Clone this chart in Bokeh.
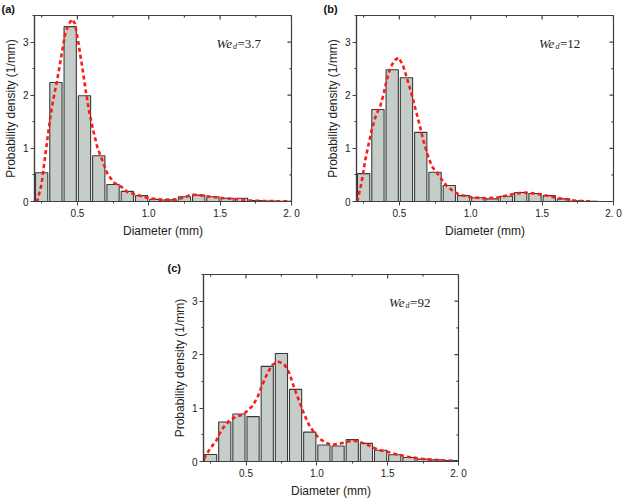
import math
from bokeh.plotting import figure
from bokeh.models import (FixedTicker, CustomJSTickFormatter, Label,
                          Range1d, Spacer, ColumnDataSource)
from bokeh.layouts import column, row
from bokeh.embed import file_html
from bokeh.resources import INLINE

# ---------------- data ----------------
bin_centers = [0.25, 0.35, 0.45, 0.55, 0.65, 0.75, 0.85, 0.95, 1.05,
               1.15, 1.25, 1.35, 1.45, 1.55, 1.65, 1.75, 1.85, 1.95]

bars_a = [0.54, 2.24, 3.29, 1.99, 0.86, 0.32, 0.19, 0.11, 0.04,
          0.03, 0.09, 0.12, 0.09, 0.06, 0.06, 0.02, 0.01, 0.005]
bars_b = [0.525, 1.73, 2.48, 2.33, 1.30, 0.55, 0.30, 0.11, 0.07,
          0.05, 0.10, 0.17, 0.15, 0.11, 0.05, 0.015, 0.005, 0.0]
bars_c = [0.13, 0.74, 0.89, 0.84, 1.78, 2.02, 1.35, 0.55, 0.31,
          0.29, 0.41, 0.34, 0.21, 0.125, 0.075, 0.045, 0.03, 0.02]

curve_a_x = [0.21, 0.221, 0.249, 0.273, 0.291, 0.31, 0.333, 0.357, 0.385, 0.413,
             0.436, 0.462, 0.483, 0.506, 0.532, 0.56, 0.583, 0.613, 0.641, 0.677,
             0.712, 0.759, 0.817, 0.85, 0.95, 1.0, 1.1, 1.2, 1.25, 1.3, 1.35,
             1.4, 1.5, 1.6, 1.7, 1.8, 2.0]
curve_a_y = [0.0, 0.02, 0.32, 0.82, 1.19, 1.57, 1.94, 2.26, 2.69, 3.13,
             3.32, 3.43, 3.35, 3.01, 2.57, 2.07, 1.69, 1.32, 1.01, 0.76,
             0.51, 0.35, 0.26, 0.18, 0.10, 0.06, 0.03, 0.04, 0.08, 0.13, 0.12,
             0.10, 0.07, 0.045, 0.02, 0.01, 0.0]

curve_b_x = [0.205, 0.214, 0.237, 0.26, 0.284, 0.307, 0.337, 0.366, 0.389, 0.412,
             0.44, 0.469, 0.495, 0.525, 0.553, 0.581, 0.611, 0.642, 0.67, 0.698,
             0.728, 0.763, 0.798, 0.833, 0.88, 0.927, 0.973, 1.0, 1.1, 1.2,
             1.3, 1.37, 1.45, 1.55, 1.65, 1.75, 1.86]
curve_b_y = [0.0, 0.10, 0.38, 0.76, 1.07, 1.35, 1.63, 1.79, 2.01, 2.29,
             2.54, 2.66, 2.71, 2.57, 2.32, 2.07, 1.76, 1.44, 1.13, 0.88,
             0.66, 0.54, 0.41, 0.29, 0.19, 0.12, 0.10, 0.08, 0.06, 0.08,
             0.14, 0.17, 0.15, 0.10, 0.045, 0.01, 0.0]

curve_c_x = [0.205, 0.217, 0.252, 0.288, 0.311, 0.341, 0.381, 0.429, 0.475, 0.511,
             0.546, 0.581, 0.616, 0.652, 0.687, 0.727, 0.77, 0.805, 0.84, 0.875,
             0.911, 0.946, 0.981, 1.017, 1.064, 1.11, 1.19, 1.25, 1.29, 1.36,
             1.43, 1.5, 1.57, 1.64, 1.74, 1.83, 1.97]
curve_c_y = [0.05, 0.12, 0.26, 0.38, 0.51, 0.64, 0.76, 0.84, 0.87, 0.95,
             1.04, 1.20, 1.44, 1.66, 1.81, 1.87, 1.82, 1.66, 1.38, 1.13,
             0.88, 0.68, 0.54, 0.43, 0.35, 0.31, 0.35, 0.39, 0.38, 0.31,
             0.22, 0.18, 0.13, 0.09, 0.05, 0.03, 0.01]

panel_tags = ["(a)", "(b)", "(c)"]
weber_values = ["3.7", "12", "92"]

x_major = [0.5, 1.0, 1.5, 2.0]
x_minor = [0.25, 0.75, 1.25, 1.75]
y_major = [0, 1, 2, 3]
y_minor = [0.5, 1.5, 2.5, 3.5]

X_START, X_END = 0.2, 2.0
Y_START, Y_END = 0.0, 3.5

AX = "#404040"
SANS = "Liberation Sans"
SERIF = "Liberation Serif"


def make_panel(bars, cx, cy, tag, we, ml, mr, mt, mb, fw, fh, tag_off, wx):
    p = figure(frame_width=fw, frame_height=fh,
               x_range=Range1d(X_START, X_END), y_range=Range1d(Y_START, Y_END),
               output_backend="svg", toolbar_location=None,
               min_border_left=ml, min_border_right=mr,
               min_border_top=mt, min_border_bottom=mb,
               background_fill_color="white", border_fill_color="white")
    p.xgrid.visible = False
    p.ygrid.visible = False
    p.outline_line_color = AX
    p.outline_line_width = 1.2

    # panel tag as title
    p.title.text = tag
    p.title.align = "left"
    p.title.offset = tag_off
    p.title.standoff = 1
    p.title.text_font = SANS
    p.title.text_font_style = "bold"
    p.title.text_font_size = "11px"
    p.title.text_color = "#111111"

    src = ColumnDataSource(dict(x=bin_centers, top=bars))
    p.vbar(x="x", top="top", bottom=0, width=0.086, source=src,
           fill_color="#c5cdc9", line_color="#3a3a3a", line_width=1.1)
    p.line(cx, cy, line_color="#ff1a1a", line_width=2.6, line_dash="4 3")

    # inward ticks on the right and top edges (half of each dash is clipped by the frame)
    p.scatter([X_END] * len(y_major), y_major, marker="dash", size=8,
              line_color=AX, line_width=1.2)
    p.scatter([X_END] * len(y_minor), y_minor, marker="dash", size=4,
              line_color=AX, line_width=1.2)
    p.scatter(x_major, [Y_END] * len(x_major), marker="dash", size=8,
              angle=math.pi / 2, line_color=AX, line_width=1.2)
    p.scatter(x_minor, [Y_END] * len(x_minor), marker="dash", size=4,
              angle=math.pi / 2, line_color=AX, line_width=1.2)

    fmt = CustomJSTickFormatter(code="return tick == 2 ? '2. 0' : tick.toFixed(1);")
    xa = p.xaxis[0]
    xa.ticker = FixedTicker(ticks=x_major, minor_ticks=x_minor)
    xa.formatter = fmt
    xa.axis_label = "Diameter (mm)"
    ya = p.yaxis[0]
    ya.ticker = FixedTicker(ticks=y_major, minor_ticks=y_minor)
    ya.axis_label = "Probability density (1/mm)"
    for a in (xa, ya):
        a.axis_line_color = AX
        a.axis_line_width = 1.2
        a.major_tick_line_color = AX
        a.minor_tick_line_color = AX
        a.major_tick_out = 4
        a.major_tick_in = 0
        a.minor_tick_out = 2
        a.minor_tick_in = 0
        a.major_label_text_font = SANS
        a.major_label_text_font_size = "10px"
        a.major_label_text_color = "#222222"
        a.major_label_standoff = 2
        a.axis_label_text_font = SANS
        a.axis_label_text_font_size = "12px"
        a.axis_label_text_font_style = "normal"
        a.axis_label_text_color = "#222222"
        a.axis_label_standoff = 2

    # We_d label
    p.add_layout(Label(x=wx, y=2.97, text="We", text_font=SERIF,
                       text_font_style="italic", text_font_size="13px",
                       text_color="#222222", text_baseline="middle"))
    p.add_layout(Label(x=wx, y=2.97, x_offset=16.5, y_offset=-3, text="d",
                       text_font=SERIF, text_font_style="italic",
                       text_font_size="8px", text_color="#222222",
                       text_baseline="middle"))
    p.add_layout(Label(x=wx, y=2.97, x_offset=21, text="=" + we,
                       text_font=SERIF, text_font_size="13px",
                       text_color="#222222", text_baseline="middle"))
    return p


pa = make_panel(bars_a, curve_a_x, curve_a_y, panel_tags[0], weber_values[0],
                34, 20, 14, 40, 257, 186, -33, 1.475)
pb = make_panel(bars_b, curve_b_x, curve_b_y, panel_tags[1], weber_values[1],
                45, 10, 14, 40, 257, 186, -33, 1.478)
pc = make_panel(bars_c, curve_c_x, curve_c_y, panel_tags[2], weber_values[2],
                43, 30, 33, 30, 255, 187, -36, 1.51)

layout = column(row(pa, pb), row(Spacer(width=160, height=10), pc))

open("out.html", "w").write(file_html(layout, INLINE))
